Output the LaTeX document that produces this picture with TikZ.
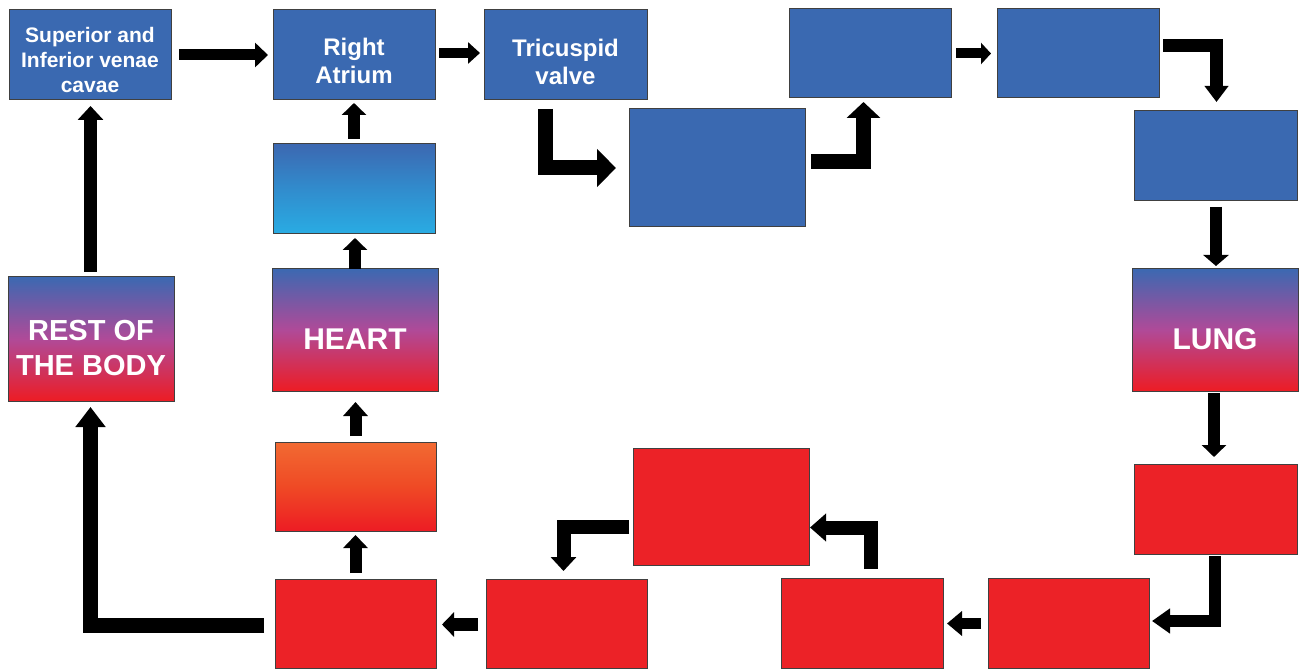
\documentclass[tikz,border=0pt]{standalone}
\usepackage{fontspec}
\setmainfont{Liberation Sans}
\usetikzlibrary{arrows.meta,calc}
\definecolor{bblue}{HTML}{3A69B1}
\definecolor{rred}{HTML}{EC2227}
\definecolor{gblue}{HTML}{3C68B1}
\definecolor{gpurp}{HTML}{B04A98}
\definecolor{gred}{HTML}{ED1C24}
\definecolor{ccyan}{HTML}{29ACE3}
\definecolor{cmid}{HTML}{318CCD}
\definecolor{otop}{HTML}{F26A32}
\definecolor{omid}{HTML}{EF4A25}
\begin{document}
\begin{tikzpicture}[x=1pt,y=-1pt,
  box/.style 2 args={draw=black!75,line width=1pt,inner sep=0pt,outer sep=0pt,minimum width=#1pt,minimum height=#2pt},
  bluefill/.style={fill=bblue},
  redfill/.style={fill=rred},
  mixfill/.style={top color=gblue,bottom color=gred,middle color=gpurp},
  cyanfill/.style={top color=gblue,bottom color=ccyan,middle color=cmid},
  orangefill/.style={top color=otop,bottom color=gred,middle color=omid},
  txt/.style={text=white,align=center,inner sep=0pt},
  smalltxt/.style={txt,font=\fontsize{21}{25}\selectfont\bfseries},
  midtxt/.style={txt,font=\fontsize{24}{28}\selectfont\bfseries},
  bigtxt/.style={txt,font=\fontsize{29}{35}\selectfont\bfseries},
  arr/.style n args={3}{draw=black,line width=#1pt,-{Triangle[length=#2pt,width=#3pt]}}
]
\useasboundingbox (0,0) rectangle (1299,671);
\fill[white] (0,0) rectangle (1299,671);

% boxes
\node[box={162}{90},bluefill] (cav) at (90,55) {};
\node[box={162}{90},bluefill] (ra) at (354,55) {};
\node[box={163}{90},bluefill] (tri) at (565.5,55) {};
\node[box={176}{118},bluefill] (b4) at (717,168) {};
\node[box={162}{89},bluefill] (b5) at (870,53.5) {};
\node[box={162}{89},bluefill] (b6) at (1078,53.5) {};
\node[box={163}{90},bluefill] (b7) at (1215.5,156) {};
\node[box={166}{122},mixfill] (lung) at (1215,330) {};
\node[box={163}{90},redfill] (b8) at (1215.5,509) {};
\node[box={161}{90},redfill] (b9) at (1068.5,623) {};
\node[box={162}{90},redfill] (b10) at (862,623) {};
\node[box={176}{117},redfill] (b11) at (721,506.5) {};
\node[box={161}{89},redfill] (b12) at (566.5,623.5) {};
\node[box={161}{89},redfill] (b13) at (355.5,623.5) {};
\node[box={161}{89},orangefill] (orange) at (355.5,486.5) {};
\node[box={166}{122},mixfill] (heart) at (355,330) {};
\node[box={162}{90},cyanfill] (cyan) at (354,189) {};
\node[box={166}{124},mixfill] (rest) at (91,339) {};

% texts
\node[smalltxt] (cavT) at ($(cav.center)+(0,4.5)$) {Superior and\\Inferior venae\\cavae};
\node[midtxt] (raT) at ($(ra.center)+(0,5.5)$) {Right\\Atrium};
\node[midtxt] (triT) at ($(tri.center)+(0,6.5)$) {Tricuspid\\valve};
\node[bigtxt] (restT) at ($(rest.center)+(0,9)$) {REST OF\\THE BODY};
\node[bigtxt,font=\fontsize{30}{35}\selectfont\bfseries] (heartT) at ($(heart.center)+(0,9)$) {HEART};
\node[bigtxt,font=\fontsize{30}{35}\selectfont\bfseries] (lungT) at ($(lung.center)+(0,9)$) {LUNG};

% connectors
\draw[arr={11}{13}{24}] ($(cav.east)+(8,0)$) -- ($(ra.west)+(-5,0)$);
\draw[arr={10}{12}{21}] ($(ra.east)+(4,-2)$) -- ($(tri.west)+(-4,-2)$);
\draw[arr={15}{19}{37}] ($(tri.south)+(-20,9)$) |- ($(b4.west)+(-13,0)$);
\draw[arr={15}{16}{33}] ($(b4.east)+(6,-6.5)$) -| ($(b5.south)+(-6.5,4)$);
\draw[arr={10}{10}{21}] ($(b5.east)+(5,0)$) -- ($(b6.west)+(-6,0)$);
\draw[arr={13}{16}{23}] ($(b6.east)+(4,-8)$) -| ($(b7.north)+(1,-9)$);
\draw[arr={12}{11}{25}] ($(b7.south)+(0.5,6)$) -- ($(lung.north -| b7.south)+(0.5,-3)$);
\draw[arr={12}{12}{24}] ($(lung.south)+(-1,2)$) -- ($(b8.north -| lung.south)+(-1,-7)$);
\draw[arr={12}{18}{24}] ($(b8.south)+(-1,2)$) |- ($(b9.east)+(3,-2)$);
\draw[arr={11}{15}{24}] ($(b9.west)+(-7,0.5)$) -- ($(b10.east)+(4,0.5)$);
\draw[arr={14}{16}{27}] ($(b10.north)+(8.5,-9)$) |- ($(b11.east)+(1,21)$);
\draw[arr={14}{14}{25}] ($(b11.west)+(-4,20.5)$) -| ($(b12.north)+(-3,-8)$);
\draw[arr={13}{12}{24}] ($(b12.west)+(-8,1)$) -- ($(b13.east)+(6,1)$);
\draw[arr={12}{13}{24}] ($(b13.north)+(0,-6)$) -- ($(orange.south)+(0,4)$);
\draw[arr={12}{14}{24}] ($(orange.north)+(0,-6)$) -- ($(heart.south -| orange.north)+(0,11)$);
\draw[arr={12}{12}{24}] (heart.north) -- ($(cyan.south -| heart.north)+(0,4)$);
\draw[arr={12}{12}{24}] ($(cyan.north)+(0,-5)$) -- ($(ra.south)+(0,3)$);
\draw[arr={15}{20}{29}] ($(b13.west)+(-11,2)$) -| ($(rest.south)+(-0.5,6)$);
\draw[arr={13}{14}{25}] ($(rest.north)+(-0.5,-5)$) -- ($(cav.south -| rest.north)+(-0.5,6)$);
\end{tikzpicture}
\end{document}
